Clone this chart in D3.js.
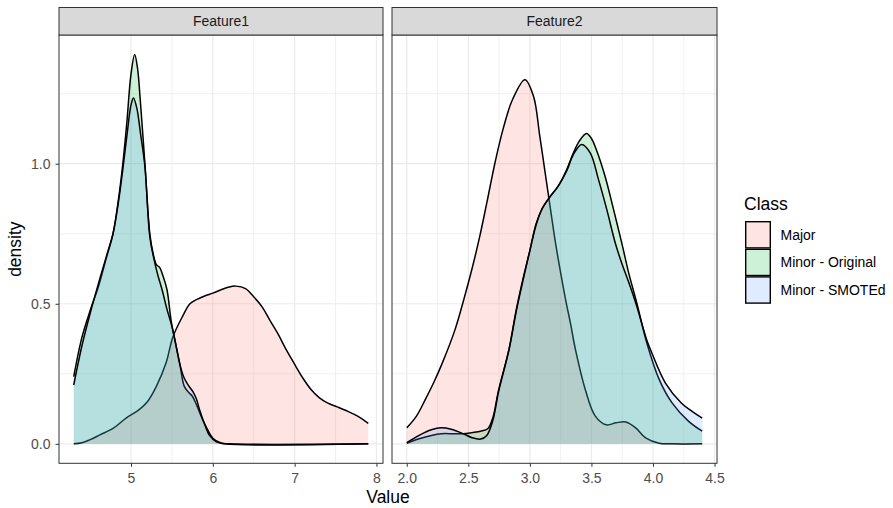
<!DOCTYPE html>
<html>
<head>
<meta charset="utf-8">
<script src="https://cdn.jsdelivr.net/npm/d3@7"></script>
<style>
  body { margin: 0; background: #fff; }
  svg { display: block; }
  text { font-family: "Liberation Sans", Arial, Helvetica, sans-serif; }
</style>
</head>
<body>
<svg id="chart" width="893" height="508"></svg>
<script>
// ---- data ----
const classes = ["Major", "Minor - Original", "Minor - SMOTEd"];
const features = ["Feature1", "Feature2"];
const classColors = ["#F8766D", "#00BA38", "#619CFF"];

const f1Major = [[4.30,0.000],[4.40,0.004],[4.50,0.015],[4.62,0.032],[4.78,0.055],[4.94,0.092],[5.10,0.122],[5.20,0.150],[5.31,0.205],[5.43,0.290],[5.51,0.380],[5.63,0.455],[5.72,0.500],[5.80,0.515],[5.90,0.528],[6.00,0.538],[6.10,0.550],[6.20,0.560],[6.28,0.563],[6.40,0.554],[6.50,0.525],[6.60,0.490],[6.70,0.440],[6.79,0.396],[6.89,0.340],[6.99,0.289],[7.10,0.235],[7.20,0.194],[7.30,0.165],[7.40,0.146],[7.52,0.132],[7.65,0.116],[7.77,0.099],[7.90,0.073]];
const f1Original = [[4.30,0.240],[4.40,0.380],[4.50,0.475],[4.60,0.560],[4.70,0.665],[4.78,0.750],[4.85,0.880],[4.90,1.000],[4.95,1.150],[5.00,1.320],[5.045,1.390],[5.08,1.340],[5.11,1.240],[5.17,1.000],[5.23,0.750],[5.27,0.680],[5.31,0.640],[5.35,0.630],[5.39,0.600],[5.44,0.550],[5.49,0.440],[5.53,0.380],[5.60,0.280],[5.65,0.206],[5.70,0.185],[5.75,0.170],[5.80,0.140],[5.87,0.090],[5.92,0.060],[6.00,0.020],[6.10,0.003],[6.20,0.000],[7.90,0.000]];
const f1Smoted = [[4.30,0.210],[4.40,0.350],[4.50,0.465],[4.60,0.570],[4.70,0.670],[4.78,0.750],[4.85,0.870],[4.90,0.980],[4.95,1.100],[5.00,1.210],[5.03,1.235],[5.07,1.200],[5.12,1.100],[5.17,0.990],[5.23,0.740],[5.28,0.660],[5.33,0.600],[5.38,0.550],[5.44,0.480],[5.49,0.430],[5.53,0.380],[5.60,0.280],[5.65,0.235],[5.71,0.205],[5.76,0.185],[5.80,0.160],[5.84,0.120],[5.90,0.070],[5.96,0.030],[6.04,0.008],[6.15,0.000],[7.90,0.000]];

const f2Major = [[2.00,0.057],[2.08,0.100],[2.15,0.158],[2.22,0.220],[2.29,0.290],[2.39,0.405],[2.46,0.510],[2.53,0.625],[2.59,0.735],[2.65,0.860],[2.715,1.000],[2.78,1.120],[2.86,1.230],[2.96,1.300],[3.03,1.240],[3.08,1.100],[3.12,0.980],[3.16,0.860],[3.20,0.740],[3.23,0.660],[3.29,0.515],[3.33,0.430],[3.37,0.337],[3.45,0.194],[3.53,0.100],[3.62,0.068],[3.70,0.075],[3.78,0.078],[3.86,0.057],[3.94,0.021],[4.05,0.002],[4.15,0.000],[4.40,0.000]];
const f2Original = [[2.00,0.002],[2.10,0.018],[2.20,0.030],[2.28,0.036],[2.38,0.036],[2.46,0.036],[2.53,0.040],[2.60,0.045],[2.66,0.055],[2.70,0.095],[2.745,0.190],[2.83,0.337],[2.89,0.480],[2.95,0.600],[3.00,0.690],[3.05,0.785],[3.10,0.840],[3.16,0.880],[3.23,0.920],[3.30,0.980],[3.35,1.035],[3.40,1.080],[3.46,1.108],[3.50,1.090],[3.54,1.050],[3.61,0.956],[3.68,0.836],[3.75,0.710],[3.80,0.615],[3.87,0.500],[3.95,0.360],[4.05,0.230],[4.155,0.146],[4.29,0.080],[4.40,0.045]];
const f2Smoted = [[2.00,0.004],[2.10,0.030],[2.20,0.050],[2.28,0.057],[2.36,0.052],[2.46,0.036],[2.53,0.022],[2.60,0.017],[2.65,0.030],[2.70,0.085],[2.745,0.185],[2.83,0.335],[2.89,0.475],[2.95,0.595],[3.00,0.690],[3.05,0.780],[3.10,0.840],[3.16,0.880],[3.23,0.920],[3.30,0.975],[3.35,1.030],[3.42,1.069],[3.49,1.039],[3.557,0.944],[3.625,0.836],[3.693,0.718],[3.75,0.640],[3.80,0.580],[3.864,0.497],[3.95,0.370],[3.99,0.325],[4.10,0.218],[4.23,0.146],[4.32,0.115],[4.40,0.092]];

const f1Ticks = [5, 6, 7, 8];
const f2Ticks = [2.0, 2.5, 3.0, 3.5, 4.0, 4.5];
const yTicks = [0, 0.5, 1.0];

// ---- layout ----
const svg = d3.select("#chart");
const panelTop = 35, panelBottom = 463.3;
const stripTop = 7.5;

const allSeries = [f1Major, f1Original, f1Smoted, f2Major, f2Original, f2Smoted];
const yMax = d3.max(allSeries.flat(), d => d[1]);
const y = d3.scaleLinear()
    .domain([-0.05 * yMax, yMax * 1.05])
    .range([panelBottom, panelTop]);

const panels = [
    { name: features[0], left: 59, right: 383, ticks: f1Ticks, fmt: d3.format("d"), series: [f1Major, f1Original, f1Smoted] },
    { name: features[1], left: 392, right: 717, ticks: f2Ticks, fmt: d3.format(".1f"), series: [f2Major, f2Original, f2Smoted] }
];

const gridColor = "#EBEBEB";
const borderColor = "#333333";
const smooth = d3.curveCatmullRom.alpha(0.5);

panels.forEach((p, i) => {
    const ext = d3.extent(p.series.flat(), d => d[0]);
    const pad = (ext[1] - ext[0]) * 0.05;
    const x = d3.scaleLinear().domain([ext[0] - pad, ext[1] + pad]).range([p.left, p.right]);

    const g = svg.append("g");

    // minor grid (midpoints between major breaks)
    const xMinor = d3.pairs(p.ticks).map(([a, b]) => (a + b) / 2);
    const yMinor = d3.pairs(yTicks).map(([a, b]) => (a + b) / 2).concat([yTicks[yTicks.length - 1] + 0.25]);
    g.append("g").selectAll("line").data(xMinor).join("line")
        .attr("x1", d => x(d)).attr("x2", d => x(d))
        .attr("y1", panelTop).attr("y2", panelBottom)
        .attr("stroke", gridColor).attr("stroke-width", 0.7);
    g.append("g").selectAll("line").data(yMinor.filter(v => y(v) > panelTop)).join("line")
        .attr("x1", p.left).attr("x2", p.right)
        .attr("y1", d => y(d)).attr("y2", d => y(d))
        .attr("stroke", gridColor).attr("stroke-width", 0.7);
    // major grid
    g.append("g").selectAll("line").data(p.ticks).join("line")
        .attr("x1", d => x(d)).attr("x2", d => x(d))
        .attr("y1", panelTop).attr("y2", panelBottom)
        .attr("stroke", gridColor).attr("stroke-width", 1.2);
    g.append("g").selectAll("line").data(yTicks).join("line")
        .attr("x1", p.left).attr("x2", p.right)
        .attr("y1", d => y(d)).attr("y2", d => y(d))
        .attr("stroke", gridColor).attr("stroke-width", 1.2);

    // densities: area then outline, group by group
    const area = d3.area().curve(smooth)
        .x(d => x(d[0])).y0(y(0)).y1(d => y(d[1]));
    const line = d3.line().curve(smooth)
        .x(d => x(d[0])).y(d => y(d[1]));

    p.series.forEach((s, k) => {
        g.append("path").attr("d", area(s))
            .attr("fill", classColors[k]).attr("fill-opacity", 0.2);
        g.append("path").attr("d", line(s))
            .attr("fill", "none").attr("stroke", "#000").attr("stroke-width", 1.5)
            .attr("stroke-linejoin", "round");
    });

    // panel border
    g.append("rect")
        .attr("x", p.left).attr("y", panelTop)
        .attr("width", p.right - p.left).attr("height", panelBottom - panelTop)
        .attr("fill", "none").attr("stroke", borderColor).attr("stroke-width", 1);

    // strip
    g.append("rect")
        .attr("x", p.left).attr("y", stripTop)
        .attr("width", p.right - p.left).attr("height", panelTop - stripTop)
        .attr("fill", "#D9D9D9").attr("stroke", borderColor).attr("stroke-width", 1);
    g.append("text")
        .attr("x", (p.left + p.right) / 2).attr("y", (stripTop + panelTop) / 2)
        .attr("dy", "0.35em").attr("text-anchor", "middle")
        .attr("font-size", 14).attr("fill", "#1A1A1A")
        .text(p.name);

    // x axis
    const xAxis = g.append("g")
        .attr("transform", `translate(0,${panelBottom})`)
        .call(d3.axisBottom(x).tickValues(p.ticks).tickFormat(p.fmt).tickSize(3.5).tickPadding(6.5));
    xAxis.select(".domain").remove();
    xAxis.selectAll("line").attr("stroke", borderColor);
    xAxis.selectAll("text").attr("font-size", 14).attr("fill", "#4D4D4D")
        .style("font-family", '"Liberation Sans", Arial, sans-serif');

    // y axis only on the first panel
    if (i === 0) {
        const yAxis = g.append("g")
            .attr("transform", `translate(${p.left},0)`)
            .call(d3.axisLeft(y).tickValues(yTicks).tickFormat(d3.format(".1f")).tickSize(3.5).tickPadding(5));
        yAxis.select(".domain").remove();
        yAxis.selectAll("line").attr("stroke", borderColor);
        yAxis.selectAll("text").attr("font-size", 14).attr("fill", "#4D4D4D")
            .style("font-family", '"Liberation Sans", Arial, sans-serif');
    }
});

// axis titles
svg.append("text")
    .attr("x", (panels[0].left + panels[1].right) / 2).attr("y", 503)
    .attr("text-anchor", "middle").attr("font-size", 17.5).attr("fill", "#000")
    .text("Value");
svg.append("text")
    .attr("transform", `translate(20.5,${(panelTop + panelBottom) / 2}) rotate(-90)`)
    .attr("text-anchor", "middle").attr("font-size", 17.5).attr("fill", "#000")
    .text("density");

// legend
const legend = svg.append("g").attr("transform", "translate(745,221)");
legend.append("text")
    .attr("x", -1).attr("y", -11)
    .attr("font-size", 17.5).attr("fill", "#000")
    .text("Class");
const keyW = 26, keyH = 27.6;
const keys = legend.selectAll("g.key").data(classes).join("g")
    .attr("class", "key")
    .attr("transform", (d, k) => `translate(0,${k * keyH})`);
keys.append("rect")
    .attr("x", 0.7).attr("y", 0.7)
    .attr("width", keyW - 1.4).attr("height", keyH - 1.4)
    .attr("fill", (d, k) => classColors[k]).attr("fill-opacity", 0.2)
    .attr("stroke", "#000").attr("stroke-width", 1.4);
keys.append("text")
    .attr("x", keyW + 9.5).attr("y", keyH / 2)
    .attr("dy", "0.35em").attr("font-size", 14).attr("fill", "#000")
    .text(d => d);
</script>
</body>
</html>
